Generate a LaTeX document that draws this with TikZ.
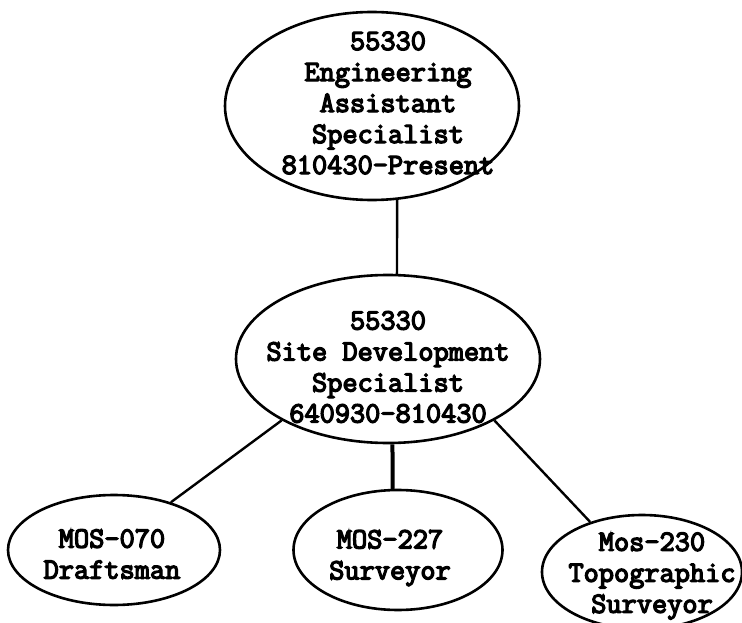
\documentclass[tikz,border=0pt]{standalone}
\usepackage{fontspec}
\newfontfamily\jobfont{Latin Modern Mono}[FakeBold=4.5]
\usetikzlibrary{shapes.geometric}
\tikzset{
  oval/.style={ellipse, draw, line width=2.6pt, inner sep=0pt},
  jobtext/.style={font=\jobfont\fontsize{29.5}{31}\selectfont, align=center, inner sep=0pt},
  link/.style={line width=2.4pt},
  thicklink/.style={line width=4pt}
}
\begin{document}
\begin{tikzpicture}[x=1pt,y=-1pt]
\useasboundingbox (0,0) rectangle (742,623);
% ellipses
\node[oval, minimum width=294pt, minimum height=188pt] (top) at (372,106) {};
\node[oval, minimum width=304pt, minimum height=168pt] (mid) at (388,359) {};
\node[oval, minimum width=212pt, minimum height=110pt] (left) at (114,550) {};
\node[oval, minimum width=209pt, minimum height=120pt] (center) at (398,550) {};
\node[oval, minimum width=200pt, minimum height=114pt] (right) at (642,572) {};
% texts
\node[jobtext] (toptext) at (388,103) {55330\\Engineering\\Assistant\\Specialist\\810430-Present};
\node[jobtext] (midtext) at (388,367) {55330\\Site Development\\Specialist\\640930-810430};
\node[jobtext] (lefttext) at (112,554) {MOS-070\\Draftsman};
\node[jobtext] (centertext) at (390,558) {MOS-227\\Surveyor};
\node[jobtext] (righttext) at (652,576) {Mos-230\\Topographic\\Surveyor};
% connectors
\draw[link] (top.-75) -- (mid.84);
\draw[link] (mid.-150) -- (left.40);
\draw[thicklink] (mid.-87) -- (center.95);
\draw[link] (mid.-30.5) -- (right.136.5);
\end{tikzpicture}
\end{document}
